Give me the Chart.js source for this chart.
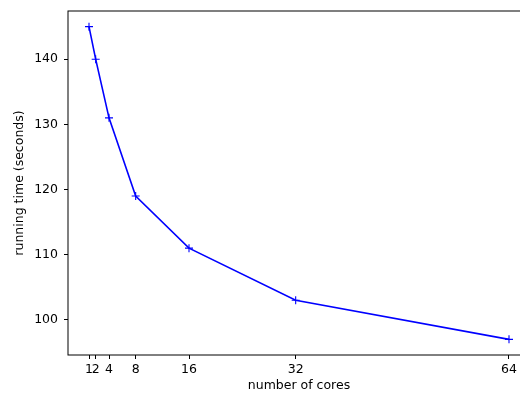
<!DOCTYPE html>
<html>
<head>
<meta charset="utf-8">
<script src="https://cdn.jsdelivr.net/npm/chart.js@4"></script>
<style>
  html, body { margin: 0; padding: 0; background: #fff; overflow: hidden; width: 520px; height: 396px; }
  canvas { display: block; }
</style>
</head>
<body>
<canvas id="chart" width="540" height="396"></canvas>
<script>
// données
const cores = [1, 2, 4, 8, 16, 32, 64];
const runningTime = [145, 140, 131, 119, 111, 103, 97];
const xTicks = [1, 2, 4, 8, 16, 32, 64];
const yTicks = [100, 110, 120, 130, 140];

const FONT = 'DejaVu Sans';
const FSIZE = 12.5;

// cadre autour de la zone de tracé (style matplotlib)
const framePlugin = {
    id: 'frame',
    afterDraw(chart) {
        const { ctx, chartArea: a } = chart;
        ctx.save();
        ctx.strokeStyle = '#000';
        ctx.lineWidth = 1;
        ctx.strokeRect(a.left, a.top, a.right - a.left, a.bottom - a.top);
        ctx.restore();
    }
};

const ctx = document.getElementById('chart').getContext('2d');
new Chart(ctx, {
    type: 'line',
    data: {
        datasets: [{
            data: cores.map((c, i) => ({ x: c, y: runningTime[i] })),
            borderColor: '#0000ff',
            borderWidth: 1.6,
            pointStyle: 'cross',
            pointRadius: 4,
            pointBorderWidth: 1.1,
            pointBorderColor: '#0000ff',
            tension: 0,
            fill: false
        }]
    },
    options: {
        responsive: false,
        animation: false,
        layout: { padding: { top: 11, right: 10, left: 0, bottom: 0 }, autoPadding: false },
        plugins: {
            legend: { display: false },
            tooltip: { enabled: false }
        },
        scales: {
            x: {
                type: 'linear',
                min: -2.15,
                max: 67.15,
                afterBuildTicks: (s) => { s.ticks = xTicks.map(v => ({ value: v })); },
                afterFit: (s) => { s.height = 41; s.paddingLeft = 0; s.paddingRight = 0; },
                grid: { drawOnChartArea: false, tickLength: 4, tickColor: '#000', tickWidth: 1 },
                border: { display: false },
                ticks: {
                    autoSkip: false, maxRotation: 0, padding: 3,
                    color: '#000', font: { family: FONT, size: FSIZE }
                },
                title: {
                    display: true, text: 'number of cores', color: '#000',
                    font: { family: FONT, size: FSIZE }, padding: { top: 0, bottom: 3 }
                }
            },
            y: {
                type: 'linear',
                min: 94.6,
                max: 147.4,
                afterBuildTicks: (s) => { s.ticks = yTicks.map(v => ({ value: v })); },
                afterFit: (s) => { s.width = 68; s.paddingTop = 0; s.paddingBottom = 0; },
                grid: { drawOnChartArea: false, tickLength: 4, tickColor: '#000', tickWidth: 1 },
                border: { display: false },
                ticks: {
                    padding: 6, color: '#000', font: { family: FONT, size: FSIZE }
                },
                title: {
                    display: true, text: 'running time (seconds)', color: '#000',
                    font: { family: FONT, size: FSIZE }, padding: { top: 12, bottom: 0 }
                }
            }
        }
    },
    plugins: [framePlugin]
});
</script>
</body>
</html>
